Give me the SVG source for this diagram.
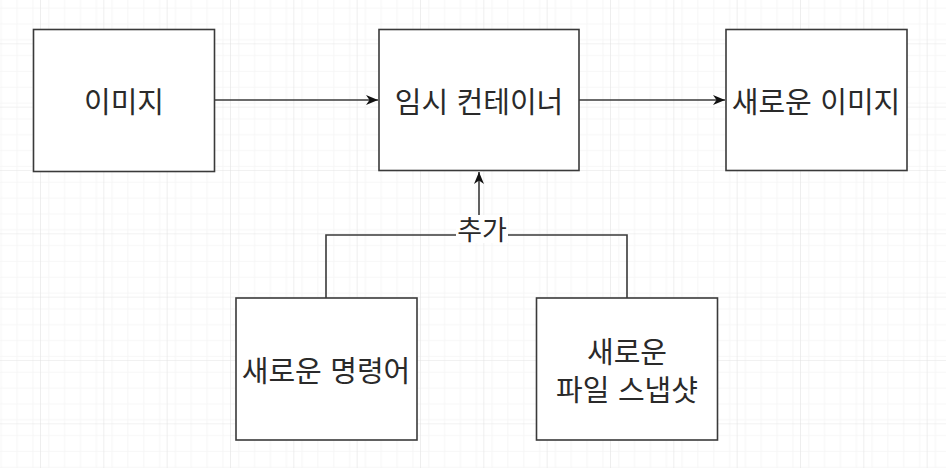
<svg xmlns="http://www.w3.org/2000/svg" width="946" height="468" viewBox="0 0 946 468">
<style>
.box{fill:#ffffff;stroke:#3a3a3a;stroke-width:1.6}
.t{font-family:"Noto Sans CJK KR","Noto Sans",sans-serif;font-size:29px;fill:#2a2a2a;text-anchor:middle;dominant-baseline:central;word-spacing:2px}
.edge{fill:none;stroke:#3a3a3a;stroke-width:1.6}
</style>
<defs>
<pattern id="minor" patternUnits="userSpaceOnUse" x="40" y="43.33" width="15.833" height="15.833">
<path d="M0 0H15.833M0 0V15.833" fill="none" stroke="#f0f0f0" stroke-width="1.2"/>
</pattern>
<pattern id="major" patternUnits="userSpaceOnUse" x="40" y="43.33" width="63.333" height="63.333">
<rect width="63.333" height="63.333" fill="url(#minor)"/>
<path d="M0 0H63.333M0 0V63.333" fill="none" stroke="#e3e3e3" stroke-width="1.2"/>
</pattern>
<marker id="arr" viewBox="0 0 12 10" refX="12" refY="5" markerWidth="12" markerHeight="10" markerUnits="userSpaceOnUse" orient="auto">
<path d="M0 0L12 5L0 10L3.5 5Z" fill="#111"/>
</marker>
</defs>
<rect width="946" height="468" fill="#ffffff"/>
<rect width="946" height="468" fill="url(#major)"/>
<g id="connectors">
<path class="edge" d="M214 100H378" marker-end="url(#arr)"/>
<path class="edge" d="M579 100H725" marker-end="url(#arr)"/>
<path class="edge" d="M326 298V235H479V172" marker-end="url(#arr)"/>
<path class="edge" d="M627 298V235H479"/>
<rect x="456" y="215" width="52" height="28" fill="#ffffff"/>
<text class="t" x="482" y="228" style="font-size:27px">추가</text>
</g>
<g id="node-image">
<rect class="box" x="33.5" y="29.5" width="181" height="142"/>
<text class="t" x="124" y="100">이미지</text>
</g>
<g id="node-temp-container">
<rect class="box" x="379" y="29.5" width="200" height="141"/>
<text class="t" x="479" y="100">임시 컨테이너</text>
</g>
<g id="node-new-image">
<rect class="box" x="726" y="29.5" width="181" height="141"/>
<text class="t" x="816" y="100">새로운 이미지</text>
</g>
<g id="node-new-command">
<rect class="box" x="236" y="298" width="181" height="142"/>
<text class="t" x="326" y="369">새로운 명령어</text>
</g>
<g id="node-new-snapshot">
<rect class="box" x="536.5" y="298" width="181" height="142"/>
<text class="t" x="627" y="350">새로운</text>
<text class="t" x="627" y="388">파일 스냅샷</text>
</g>
</svg>
